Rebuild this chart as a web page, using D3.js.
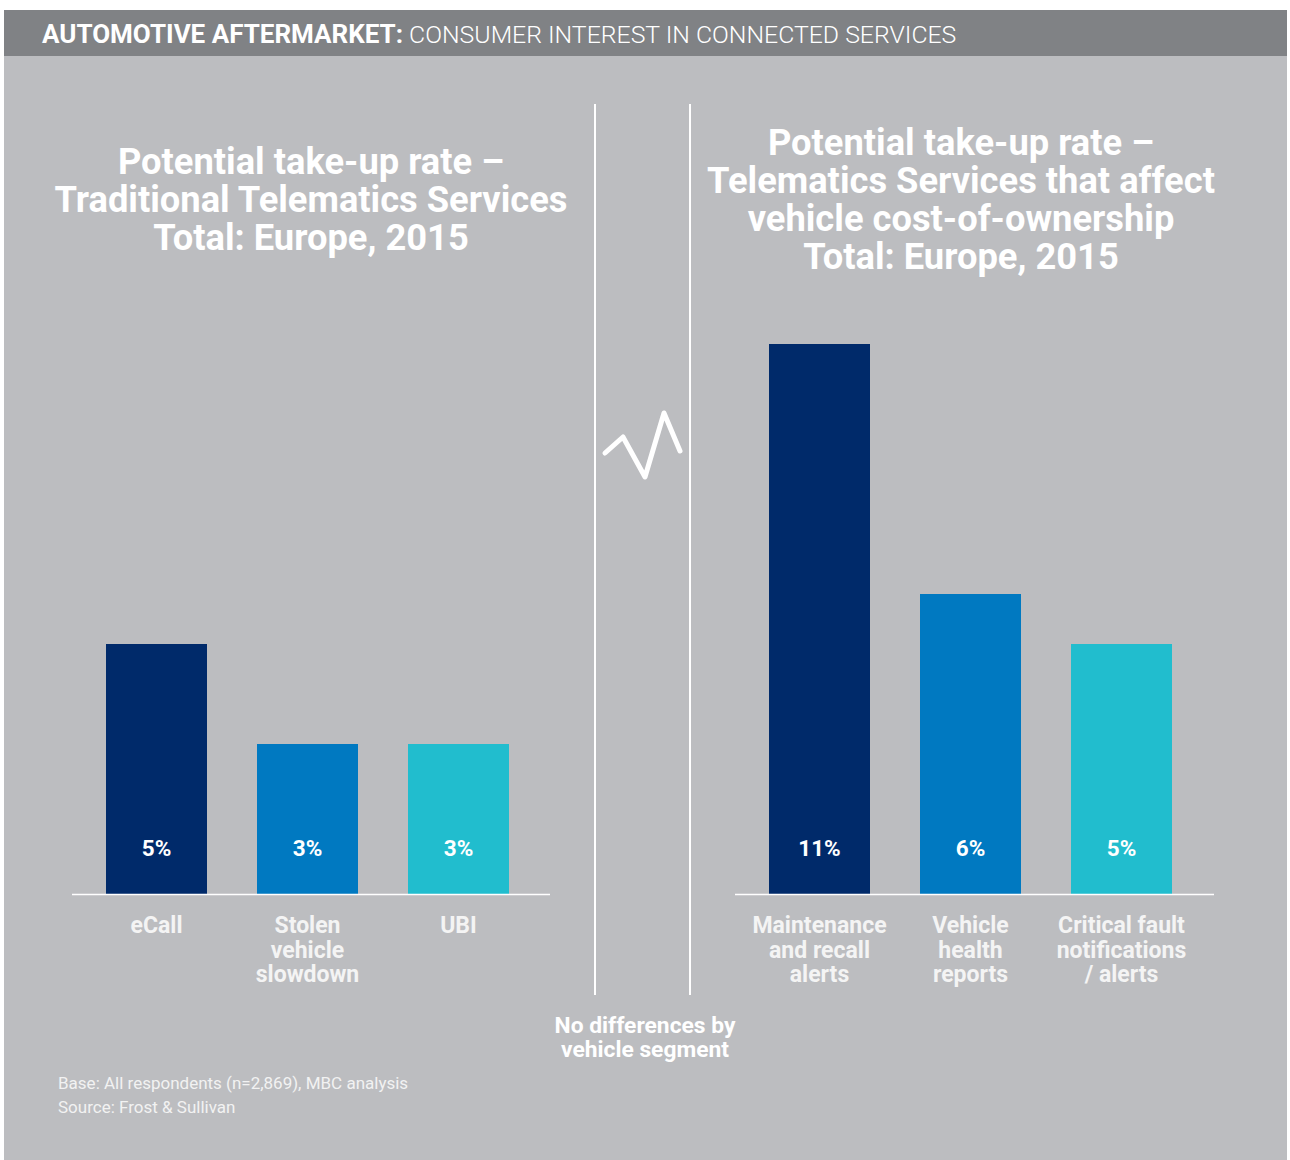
<!DOCTYPE html>
<html><head><meta charset="utf-8">
<script src="https://cdn.jsdelivr.net/npm/d3@7"></script>
<style>
html,body{margin:0;padding:0;background:#fff;}
svg{display:block;}
</style></head>
<body>
<svg id="c" width="1290" height="1160"></svg>
<script>
const headerBold = "AUTOMOTIVE AFTERMARKET:";
const headerLight = " CONSUMER INTEREST IN CONNECTED SERVICES";
const leftTitle = ["Potential take-up rate \u2013", "Traditional Telematics Services", "Total: Europe, 2015"];
const rightTitle = ["Potential take-up rate \u2013", "Telematics Services that affect", "vehicle cost-of-ownership", "Total: Europe, 2015"];
const leftCategories = [["eCall"], ["Stolen", "vehicle", "slowdown"], ["UBI"]];
const leftValues = [5, 3, 3];
const rightCategories = [["Maintenance", "and recall", "alerts"], ["Vehicle", "health", "reports"], ["Critical fault", "notifications", "/ alerts"]];
const rightValues = [11, 6, 5];
const barColors = ["#002a6a", "#0079c1", "#21bdce"];
const note = ["No differences by", "vehicle segment"];
const footer = ["Base: All respondents (n=2,869), MBC analysis", "Source: Frost & Sullivan"];

const svg = d3.select("#c");
const FONT = "Roboto, 'Open Sans', sans-serif";

// background panel
svg.append("rect").attr("x", 4).attr("y", 10).attr("width", 1283).attr("height", 1150).attr("fill", "#bcbdc0");
svg.append("rect").attr("x", 4).attr("y", 10).attr("width", 1283).attr("height", 46).attr("fill", "#808285");

const ht = svg.append("text").attr("x", 42).attr("y", 43).attr("fill", "#fff")
  .attr("font-family", FONT);
ht.append("tspan").attr("font-weight", 700).attr("font-size", 26).text(headerBold);
ht.append("tspan").attr("font-weight", 300).attr("font-size", 24.8).text(headerLight);

// dividers
[595, 690].forEach(x => {
  svg.append("line").attr("x1", x).attr("x2", x).attr("y1", 104).attr("y2", 995)
    .attr("stroke", "#fff").attr("stroke-width", 2);
});

// break zigzag
const zz = [[605,453],[623,437],[645,477],[664,413],[680,451]];
svg.append("path").attr("d", d3.line()(zz)).attr("fill", "none").attr("stroke", "#fff")
  .attr("stroke-width", 5).attr("stroke-linecap", "round").attr("stroke-linejoin", "round");

const y = d3.scaleLinear().domain([0, 11]).range([894, 344]);

function panel(cfg) {
  const g = svg.append("g");
  const x = d3.scaleBand().domain(d3.range(cfg.values.length))
    .range(cfg.range).paddingInner(50/151).paddingOuter(25/151);
  // title
  const t = g.append("text").attr("text-anchor", "middle").attr("fill", "#fff")
    .attr("font-family", FONT).attr("font-weight", 700).attr("font-size", 36.3);
  cfg.title.forEach((line, i) => {
    t.append("tspan").attr("x", cfg.titleX).attr("y", cfg.titleY + i * 38).text(line);
  });
  // bars
  g.selectAll("rect.bar").data(cfg.values).join("rect").attr("class", "bar")
    .attr("x", (d, i) => x(i)).attr("width", x.bandwidth())
    .attr("y", d => y(d)).attr("height", d => y(0) - y(d))
    .attr("fill", (d, i) => barColors[i]);
  g.selectAll("text.val").data(cfg.values).join("text").attr("class", "val")
    .attr("x", (d, i) => x(i) + x.bandwidth() / 2).attr("y", 856)
    .attr("text-anchor", "middle").attr("fill", "#fff")
    .attr("font-family", FONT).attr("font-weight", 700).attr("font-size", 22.5)
    .text(d => d + "%");
  // axis line
  g.append("line").attr("x1", cfg.axis[0]).attr("x2", cfg.axis[1]).attr("y1", 894.5).attr("y2", 894.5)
    .attr("stroke", "#fff").attr("stroke-width", 1.5);
  // category labels
  cfg.cats.forEach((lines, i) => {
    lines.forEach((l, j) => g.append("text").attr("text-anchor", "middle").attr("fill", "#f4f4f4")
      .attr("font-family", FONT).attr("font-weight", 700).attr("font-size", 23)
      .attr("x", x(i) + x.bandwidth() / 2).attr("y", 933 + j * 24.5).text(l));
  });
}

panel({values: leftValues, cats: leftCategories, title: leftTitle, titleX: 311, titleY: 174, range: [81, 534], axis: [72, 550]});
panel({values: rightValues, cats: rightCategories, title: rightTitle, titleX: 961, titleY: 155, range: [744, 1197], axis: [735, 1214]});

const nt = svg.append("text").attr("text-anchor", "middle").attr("fill", "#fff")
  .attr("font-family", FONT).attr("font-weight", 700).attr("font-size", 22.8);
note.forEach((l, i) => nt.append("tspan").attr("x", 645).attr("y", 1033 + i * 24).text(l));

const ft = svg.append("text").attr("fill", "#f2f2f2").attr("font-family", FONT).attr("font-weight", 400).attr("font-size", 17);
footer.forEach((l, i) => ft.append("tspan").attr("x", 58).attr("y", 1089 + i * 24).text(l));
</script>
</body></html>
